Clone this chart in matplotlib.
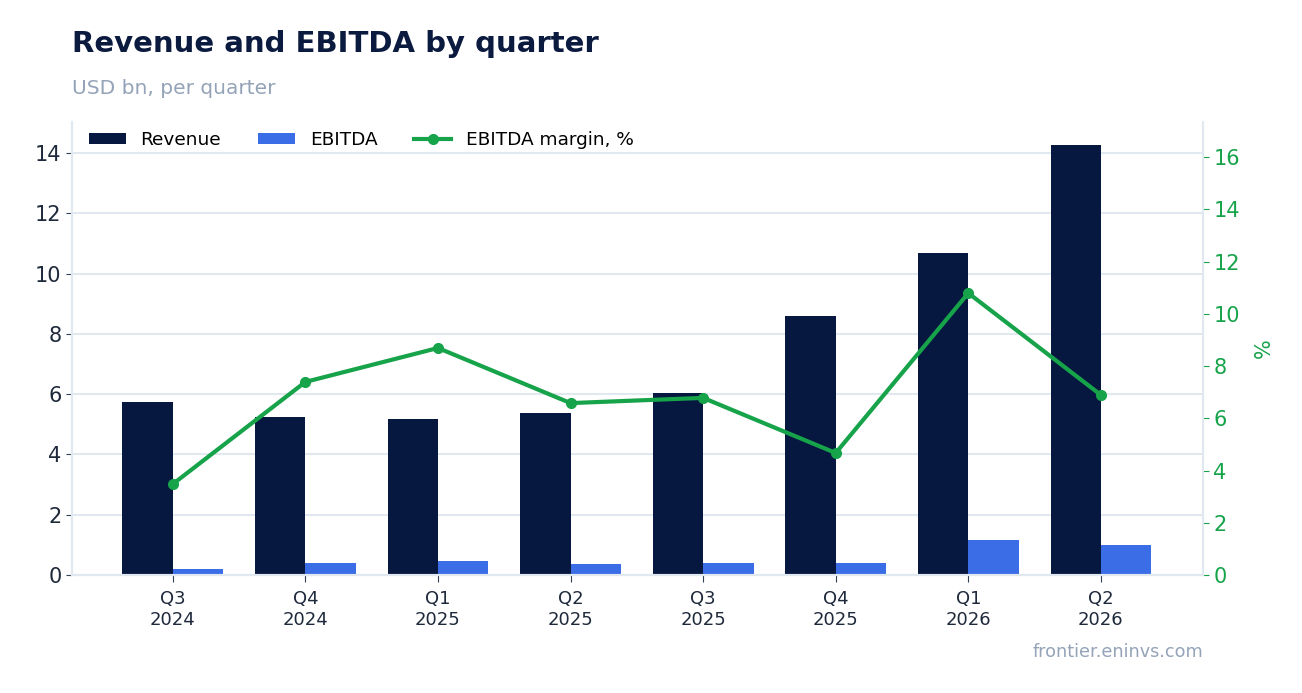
import numpy as np
import matplotlib.pyplot as plt

quarters = ['Q3\n2024', 'Q4\n2024', 'Q1\n2025', 'Q2\n2025', 'Q3\n2025', 'Q4\n2025', 'Q1\n2026', 'Q2\n2026']
revenue = [5.74, 5.24, 5.18, 5.37, 6.04, 8.59, 10.68, 14.27]
ebitda = [0.20, 0.39, 0.45, 0.35, 0.41, 0.40, 1.15, 0.98]
margin = [3.48, 7.39, 8.69, 6.58, 6.78, 4.67, 10.79, 6.89]

navy = '#061740'
blue = '#3b6de6'
green = '#16a34a'
grid_col = '#e2e8f0'
muted = '#94a3b8'
ink = '#1e293b'

fig = plt.figure(figsize=(13.02, 6.93), dpi=100)
ax = fig.add_axes([72 / 1302, 1 - 575 / 693, (1203 - 72) / 1302, (575 - 122) / 693])

x = np.arange(len(quarters))
w = 0.38
ax.bar(x - w / 2, revenue, w, color=navy, label='Revenue', zorder=2)
ax.bar(x + w / 2, ebitda, w, color=blue, label='EBITDA', zorder=2)

ax.set_xlim(-0.76, len(quarters) - 1 + 0.77)
ax.set_ylim(0, 15.03)
ax.set_yticks(np.arange(0, 15, 2))
ax.set_xticks(x)
ax.set_xticklabels(quarters, fontsize=13, color=ink)
ax.tick_params(axis='y', labelsize=15, colors=ink, length=4, color='#334155')
ax.tick_params(axis='x', length=5, color='#334155', pad=6)
ax.grid(axis='y', color=grid_col, linewidth=1.5, zorder=0)
ax.set_axisbelow(True)
ax.spines['top'].set_visible(False)
for s in ['left', 'bottom', 'right']:
    ax.spines[s].set_color(grid_col)
    ax.spines[s].set_linewidth(1.5)

ax2 = ax.twinx()
ax2.plot(x, margin, color=green, linewidth=3, marker='o', markersize=7, label='EBITDA margin, %', zorder=3)
ax2.set_ylim(0, 17.34)
ax2.set_yticks(np.arange(0, 17, 2))
ax2.tick_params(axis='y', labelsize=15, colors=green, length=4)
ax2.set_ylabel('%', color=green, fontsize=15, labelpad=10)
ax2.spines['top'].set_visible(False)
for s in ['left', 'bottom', 'right']:
    ax2.spines[s].set_color(grid_col)
    ax2.spines[s].set_linewidth(1.5)

h1, l1 = ax.get_legend_handles_labels()
h2, l2 = ax2.get_legend_handles_labels()
ax.legend(h1 + h2, l1 + l2, loc='upper left', ncol=3, frameon=False, fontsize=13.3,
          bbox_to_anchor=(0.0, 1.017), handlelength=2.0, handleheight=0.6, columnspacing=2.0)

fig.text(72 / 1302, 1 - 44 / 693, 'Revenue and EBITDA by quarter', fontsize=21, fontweight='bold',
         color='#0b1a3f', va='center', ha='left')
fig.text(72 / 1302, 1 - 88 / 693, 'USD bn, per quarter', fontsize=14.5, color=muted, va='center', ha='left')
fig.text(1203 / 1302, 1 - 652 / 693, 'frontier.eninvs.com', fontsize=12.7, color=muted, va='center', ha='right')

fig.savefig('out.png', dpi=100)
